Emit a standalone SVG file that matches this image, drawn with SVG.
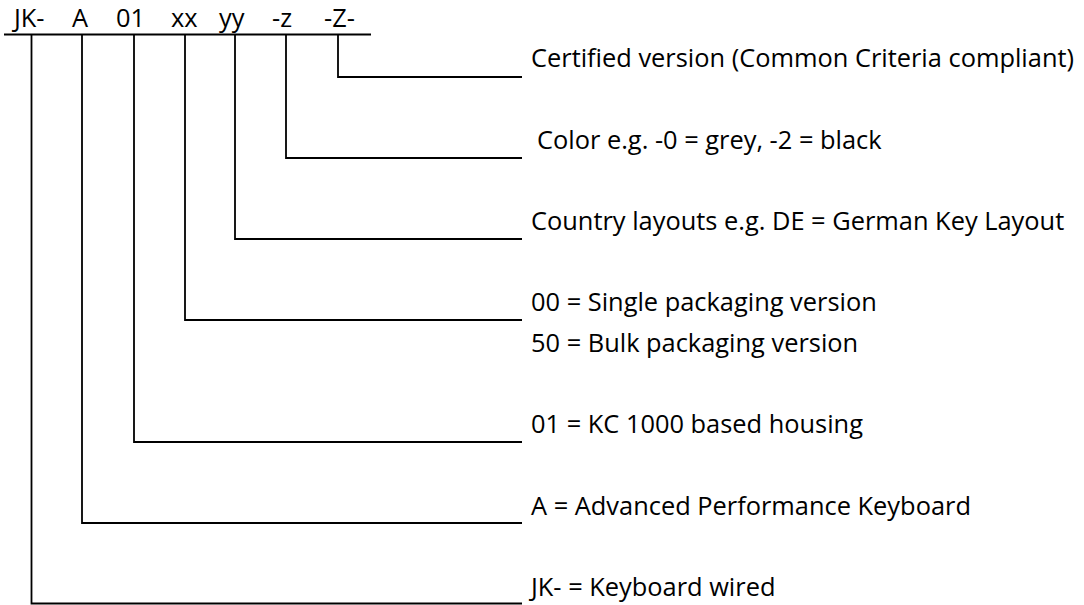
<svg xmlns="http://www.w3.org/2000/svg" width="1084" height="605" viewBox="0 0 1084 605">
  <style>
    .t { font-family: "Open Sans", "Liberation Sans", sans-serif; font-size: 25.4px; fill: #000; }
    .ln { fill: none; stroke: #000; stroke-width: 1.8; stroke-linejoin: miter; stroke-linecap: butt; }
  </style>
  <rect width="1084" height="605" fill="#fff"/>
  <g id="code">
    <text class="t" y="27"><tspan x="14">JK-</tspan><tspan x="72">A</tspan><tspan x="116">01</tspan><tspan x="171">xx</tspan><tspan x="219">yy</tspan><tspan x="272">-z</tspan><tspan x="324">-Z-</tspan></text>
    <line class="ln" x1="4" y1="34.5" x2="371" y2="34.5"/>
  </g>
  <g id="connectors">
    <path class="ln" d="M338,34.5 V77 H522"/>
    <path class="ln" d="M286,34.5 V158 H522"/>
    <path class="ln" d="M235,34.5 V239 H522"/>
    <path class="ln" d="M185,34.5 V320 H522"/>
    <path class="ln" d="M134,34.5 V442 H522"/>
    <path class="ln" d="M82,34.5 V523 H522"/>
    <path class="ln" d="M31.5,34.5 V603.5 H522"/>
  </g>
  <g id="label-certified"><text class="t" x="531" y="67">Certified version (Common Criteria compliant)</text></g>
  <g id="label-color"><text class="t" x="537" y="148.5">Color e.g. -0 = grey, -2 = black</text></g>
  <g id="label-country"><text class="t" x="531" y="230">Country layouts e.g. DE = German Key Layout</text></g>
  <g id="label-packaging">
    <text class="t" x="531" y="311">00 = Single packaging version</text>
    <text class="t" x="531" y="352">50 = Bulk packaging version</text>
  </g>
  <g id="label-housing"><text class="t" x="531" y="433">01 = KC 1000 based housing</text></g>
  <g id="label-keyboard"><text class="t" x="531" y="515">A = Advanced Performance Keyboard</text></g>
  <g id="label-wired"><text class="t" x="531" y="596">JK- = Keyboard wired</text></g>
</svg>
